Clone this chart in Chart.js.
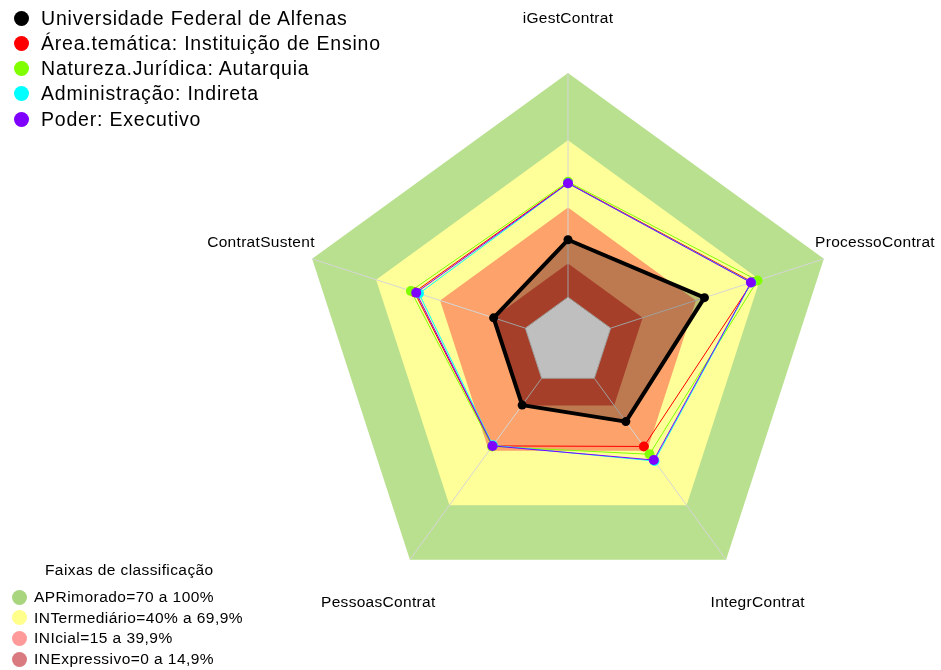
<!DOCTYPE html>
<html>
<head>
<meta charset="utf-8">
<script src="https://cdn.jsdelivr.net/npm/chart.js@4/dist/chart.umd.min.js"></script>
<style>
  body { margin: 0; background: #fff; font-family: "Liberation Sans", Arial, sans-serif; }
  #wrap { position: relative; width: 941px; height: 670px; }
  canvas { position: absolute; left: 0; top: 0; }
  .leg { position: absolute; left: 0; top: 0; }
  .row { position: absolute; display: flex; align-items: center; white-space: nowrap; }
  .dot { border-radius: 50%; flex: none; }
  #legTop .row { font-size: 19.5px; letter-spacing: 0.8px; left: 14px; height: 26px; }
  #legTop .dot { width: 15px; height: 15px; margin-right: 12px; }
  #legBot .row { font-size: 15.5px; letter-spacing: 0.45px; left: 12px; height: 20px; }
  #legBot .dot { width: 15px; height: 15px; margin-right: 7px; }
  #legBot .title { position: absolute; left: 45px; top: 561px; font-size: 15.5px; letter-spacing: 0.4px; white-space: nowrap; }
</style>
</head>
<body>
<div id="wrap">
  <canvas id="radar" width="941" height="670"></canvas>
  <div class="leg" id="legTop"></div>
  <div class="leg" id="legBot"><div class="title">Faixas de classificação</div></div>
</div>
<script>
// eixos (sentido horario, comecando no topo)
const axisLabels = ['iGestContrat', 'ProcessoContrat', 'IntegrContrat', 'PessoasContrat', 'ContratSustent'];

// series
const seriesNames = [
  'Universidade Federal de Alfenas',
  'Área.temática: Instituição de Ensino',
  'Natureza.Jurídica: Autarquia',
  'Administração: Indireta',
  'Poder: Executivo'
];
const seriesColors = ['#000000', '#FF0000', '#80FF00', '#00FFFF', '#8000FF'];

const unifal = [25.6, 44.0, 23.9, 14.8, 14.9];
const areaTematica = [51.0, 66.5, 37.6, 37.3, 52.0];
const natureza = [51.5, 68.9, 41.9, 37.6, 53.7];
const administracao = [50.8, 66.0, 45.6, 37.0, 49.9];
const poder = [50.8, 65.8, 45.1, 37.3, 51.2];
const seriesValues = [unifal, areaTematica, natureza, administracao, poder];

// faixas de classificacao
const bandNames = [
  'APRimorado=70 a 100%',
  'INTermediário=40% a 69,9%',
  'INIcial=15 a 39,9%',
  'INExpressivo=0 a 14,9%'
];
const bandTops = [100, 70, 40, 15];
const bandFill = ['#B9E08F', '#FFFF99', '#FCA26A', '#DC5538'];
const bandLegendColors = ['#A9D57E', '#FFFF8C', '#FF9A9A', '#D97A80'];

const scaleMin = -20;
const scaleMax = 100;

const bandDatasets = bandTops.map((top, i) => ({
  label: bandNames[i],
  data: axisLabels.map(() => top),
  backgroundColor: bandFill[i],
  borderColor: 'transparent',
  borderWidth: 0,
  pointRadius: 0,
  fill: 'origin',
  order: 20 - i
}));

const seriesDatasets = seriesValues.map((vals, i) => ({
  label: seriesNames[i],
  data: vals,
  borderColor: seriesColors[i],
  backgroundColor: i === 0 ? 'rgba(0,0,0,0.25)' : seriesColors[i],
  pointBackgroundColor: seriesColors[i],
  pointBorderColor: seriesColors[i],
  pointRadius: i === 0 ? 4.5 : 5,
  pointBorderWidth: 0,
  borderWidth: i === 0 ? 4 : 1,
  borderJoinStyle: 'round',
  fill: i === 0 ? 'start' : false,
  order: 10 - i
}));

// linhas dos eixos desenhadas por cima das faixas
const axisLinesPlugin = {
  id: 'axisLines',
  afterDatasetDraw(chart, args) {
    if (chart.data.datasets[args.index].label !== bandNames[bandNames.length - 1]) return;
    const r = chart.scales.r;
    const ctx = chart.ctx;
    ctx.save();
    ctx.strokeStyle = '#D6D6D6';
    ctx.lineWidth = 1;
    ctx.beginPath();
    axisLabels.forEach((_, i) => {
      const a = r.getPointPositionForValue(i, 0);
      const b = r.getPointPositionForValue(i, scaleMax);
      ctx.moveTo(a.x, a.y);
      ctx.lineTo(b.x, b.y);
    });
    axisLabels.forEach((_, i) => {
      const a = r.getPointPositionForValue(i, 0);
      if (i === 0) ctx.moveTo(a.x, a.y); else ctx.lineTo(a.x, a.y);
    });
    ctx.closePath();
    ctx.stroke();
    ctx.restore();
  }
};

// rotulos dos eixos a 1.2 x raio
const axisTitlesPlugin = {
  id: 'axisTitles',
  afterDraw(chart) {
    const r = chart.scales.r;
    const ctx = chart.ctx;
    ctx.save();
    ctx.font = '15.5px "Liberation Sans", Arial, sans-serif';
    ctx.letterSpacing = '0.3px';
    ctx.fillStyle = '#000';
    ctx.textAlign = 'center';
    ctx.textBaseline = 'middle';
    axisLabels.forEach((lab, i) => {
      const p = r.getPointPosition(i, r.drawingArea * 1.2);
      ctx.fillText(lab, p.x, p.y);
    });
    ctx.restore();
  }
};

new Chart(document.getElementById('radar'), {
  type: 'radar',
  data: { labels: axisLabels, datasets: [...seriesDatasets, ...bandDatasets] },
  options: {
    responsive: false,
    animation: false,
    layout: { padding: { left: 299, right: 104, top: 73, bottom: 59 } },
    elements: { line: { tension: 0 } },
    plugins: { legend: { display: false }, tooltip: { enabled: false } },
    scales: {
      r: {
        min: scaleMin,
        max: scaleMax,
        ticks: { display: false },
        grid: { display: false },
        angleLines: { display: false },
        pointLabels: { display: false }
      }
    }
  },
  plugins: [axisLinesPlugin, axisTitlesPlugin]
});

// legendas em html
const legTop = document.getElementById('legTop');
seriesNames.forEach((name, i) => {
  const row = document.createElement('div');
  row.className = 'row';
  row.style.top = (5 + i * 25.3) + 'px';
  row.innerHTML = '<span class="dot" style="background:' + seriesColors[i] + '"></span>' + name;
  legTop.appendChild(row);
});
const legBot = document.getElementById('legBot');
bandNames.forEach((name, i) => {
  const row = document.createElement('div');
  row.className = 'row';
  row.style.top = (587 + i * 20.7) + 'px';
  row.innerHTML = '<span class="dot" style="background:' + bandLegendColors[i] + '"></span>' + name;
  legBot.appendChild(row);
});
</script>
</body>
</html>
